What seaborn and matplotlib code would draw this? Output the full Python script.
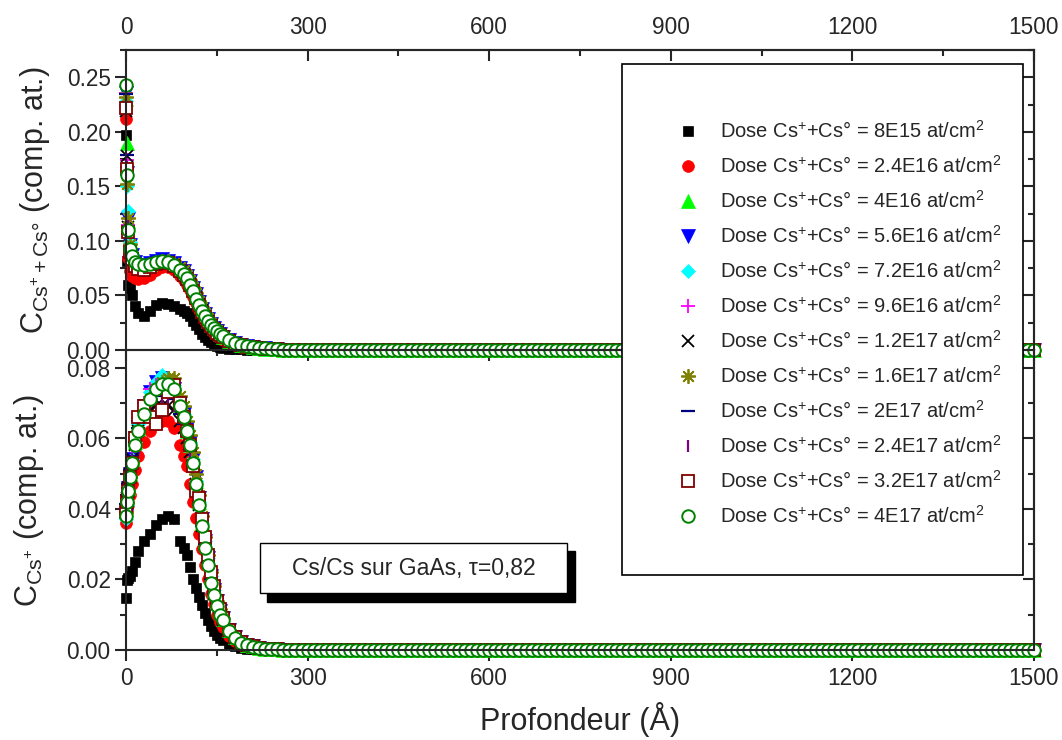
import warnings
import numpy as np
import seaborn as sns
import matplotlib.pyplot as plt
from matplotlib.lines import Line2D
from matplotlib.patches import Rectangle
from matplotlib.ticker import MultipleLocator, FormatStrFormatter

warnings.filterwarnings("ignore")

# ---- data ----
# depth (Angstrom) where the profiles are non-zero
depth_profile = [0, 2, 4, 7, 10, 15, 20, 30, 40, 50, 60, 70, 80,
                 90, 95, 100, 105, 110, 115, 120, 125, 130, 135, 140, 145, 150, 155, 160,
                 170, 180, 190, 200, 210, 220, 230, 240, 250]
# flat part of the profiles, all values are 0 there
depth_tail = list(range(260, 1501, 10))
tail_zero = [0.0] * len(depth_tail)

doses = ["8E15", "2.4E16", "4E16", "5.6E16", "7.2E16", "9.6E16",
         "1.2E17", "1.6E17", "2E17", "2.4E17", "3.2E17", "4E17"]

# top panel : C(Cs+ + Cs°)
tot_8e15 = [0.197, 0.082, 0.060, 0.057, 0.050, 0.040, 0.034, 0.031, 0.036, 0.041, 0.043, 0.042, 0.040,
            0.038, 0.036, 0.034, 0.031, 0.027, 0.023, 0.019, 0.015, 0.012, 0.009, 0.007, 0.005, 0.0035, 0.0027, 0.002,
            0.0012, 0.0008, 0.0005, 0.0003, 0.0002, 0.0001, 0.0001, 0.0, 0.0]
tot_2_4e16 = [0.212, 0.108, 0.084, 0.072, 0.068, 0.066, 0.065, 0.066, 0.069, 0.073, 0.076, 0.076, 0.073,
              0.068, 0.064, 0.060, 0.055, 0.049, 0.043, 0.037, 0.032, 0.027, 0.023, 0.019, 0.016, 0.013, 0.011, 0.009,
              0.0065, 0.0045, 0.0032, 0.0023, 0.0017, 0.0012, 0.0009, 0.0006, 0.0004]
tot_4e16 = [0.230, 0.190, 0.118, 0.094, 0.085, 0.080, 0.077, 0.077, 0.079, 0.081, 0.082, 0.081, 0.079,
            0.074, 0.071, 0.067, 0.062, 0.056, 0.050, 0.043, 0.037, 0.032, 0.027, 0.023, 0.020, 0.017, 0.0145, 0.012,
            0.0085, 0.006, 0.0045, 0.0034, 0.0025, 0.0018, 0.0013, 0.0009, 0.0006]
tot_5_6e16 = [0.236, 0.162, 0.120, 0.096, 0.087, 0.081, 0.078, 0.077, 0.080, 0.082, 0.083, 0.082, 0.080,
              0.075, 0.072, 0.068, 0.063, 0.057, 0.051, 0.044, 0.038, 0.033, 0.028, 0.024, 0.020, 0.017, 0.0145, 0.012,
              0.0088, 0.0063, 0.0046, 0.0035, 0.0026, 0.0019, 0.0014, 0.001, 0.0007]
tot_7_2e16 = [0.228, 0.150, 0.127, 0.099, 0.088, 0.082, 0.078, 0.077, 0.079, 0.081, 0.082, 0.082, 0.079,
              0.074, 0.071, 0.067, 0.062, 0.056, 0.049, 0.043, 0.037, 0.032, 0.027, 0.023, 0.020, 0.017, 0.014, 0.012,
              0.0087, 0.0062, 0.0045, 0.0034, 0.0025, 0.0018, 0.0013, 0.0009, 0.0006]
tot_9_6e16 = [0.236, 0.174, 0.115, 0.092, 0.085, 0.080, 0.077, 0.076, 0.078, 0.080, 0.081, 0.080, 0.078,
              0.073, 0.070, 0.066, 0.061, 0.055, 0.049, 0.042, 0.036, 0.031, 0.027, 0.023, 0.019, 0.016, 0.014, 0.012,
              0.0085, 0.006, 0.0044, 0.0033, 0.0024, 0.0018, 0.0013, 0.0009, 0.0006]
tot_1_2e17 = [0.219, 0.178, 0.113, 0.091, 0.084, 0.079, 0.076, 0.075, 0.077, 0.080, 0.081, 0.081, 0.079,
              0.075, 0.072, 0.068, 0.063, 0.057, 0.051, 0.044, 0.038, 0.033, 0.028, 0.024, 0.020, 0.017, 0.0145, 0.012,
              0.0088, 0.0063, 0.0046, 0.0035, 0.0026, 0.0019, 0.0014, 0.001, 0.0007]
tot_1_6e17 = [0.232, 0.152, 0.121, 0.097, 0.086, 0.079, 0.075, 0.074, 0.077, 0.080, 0.082, 0.082, 0.080,
              0.076, 0.073, 0.069, 0.064, 0.058, 0.052, 0.045, 0.039, 0.034, 0.029, 0.025, 0.021, 0.018, 0.015, 0.013,
              0.009, 0.0065, 0.0048, 0.0036, 0.0027, 0.002, 0.0015, 0.0011, 0.0008]
tot_2e17 = [0.235, 0.179, 0.112, 0.092, 0.085, 0.080, 0.077, 0.076, 0.078, 0.080, 0.081, 0.080, 0.078,
            0.073, 0.070, 0.066, 0.061, 0.055, 0.048, 0.042, 0.036, 0.031, 0.027, 0.023, 0.019, 0.016, 0.014, 0.012,
            0.0085, 0.006, 0.0044, 0.0033, 0.0024, 0.0018, 0.0013, 0.0009, 0.0006]
tot_2_4e17 = [0.226, 0.168, 0.114, 0.093, 0.086, 0.080, 0.077, 0.076, 0.078, 0.080, 0.081, 0.080, 0.078,
              0.073, 0.070, 0.066, 0.060, 0.055, 0.049, 0.042, 0.036, 0.031, 0.026, 0.023, 0.019, 0.016, 0.014, 0.012,
              0.0085, 0.006, 0.0044, 0.0033, 0.0024, 0.0018, 0.0013, 0.0009, 0.0006]
tot_3_2e17 = [0.222, 0.166, 0.108, 0.090, 0.083, 0.077, 0.074, 0.073, 0.076, 0.079, 0.080, 0.080, 0.077,
              0.072, 0.069, 0.065, 0.060, 0.054, 0.048, 0.041, 0.035, 0.030, 0.026, 0.022, 0.019, 0.016, 0.0135, 0.0115,
              0.0082, 0.0058, 0.0042, 0.0032, 0.0023, 0.0017, 0.0012, 0.0008, 0.0005]
tot_4e17 = [0.243, 0.160, 0.110, 0.093, 0.086, 0.081, 0.079, 0.078, 0.079, 0.081, 0.082, 0.081, 0.078,
            0.073, 0.070, 0.066, 0.060, 0.054, 0.047, 0.041, 0.036, 0.031, 0.027, 0.023, 0.020, 0.017, 0.015, 0.013,
            0.009, 0.0065, 0.005, 0.0037, 0.0028, 0.002, 0.0015, 0.0011, 0.0008]

# bottom panel : C(Cs+)
cs_8e15 = [0.0146, 0.0198, 0.0205, 0.021, 0.0225, 0.025, 0.028, 0.031, 0.033, 0.0355, 0.037, 0.038, 0.037,
           0.031, 0.029, 0.027, 0.0235, 0.020, 0.0175, 0.015, 0.0127, 0.0105, 0.0085, 0.0068, 0.0055, 0.0043, 0.0034, 0.0027,
           0.0017, 0.001, 0.0006, 0.0004, 0.0003, 0.0002, 0.0001, 0.0001, 0.0]
cs_2_4e16 = [0.036, 0.039, 0.041, 0.044, 0.047, 0.051, 0.055, 0.059, 0.062, 0.064, 0.065, 0.065, 0.063,
             0.058, 0.055, 0.052, 0.047, 0.042, 0.0375, 0.033, 0.0285, 0.024, 0.020, 0.016, 0.013, 0.010, 0.008, 0.0065,
             0.004, 0.0025, 0.0015, 0.001, 0.0006, 0.0004, 0.0003, 0.0002, 0.0001]
cs_4e16 = [0.040, 0.043, 0.046, 0.050, 0.054, 0.059, 0.063, 0.068, 0.072, 0.075, 0.076, 0.076, 0.074,
           0.069, 0.066, 0.062, 0.058, 0.053, 0.048, 0.042, 0.036, 0.031, 0.026, 0.021, 0.017, 0.0135, 0.011, 0.0088,
           0.0057, 0.0036, 0.0023, 0.0015, 0.001, 0.0006, 0.0004, 0.0003, 0.0002]
cs_5_6e16 = [0.038, 0.042, 0.046, 0.050, 0.054, 0.060, 0.064, 0.069, 0.073, 0.076, 0.077, 0.076, 0.074,
             0.070, 0.067, 0.063, 0.059, 0.054, 0.049, 0.043, 0.037, 0.031, 0.026, 0.021, 0.017, 0.014, 0.011, 0.009,
             0.0058, 0.0037, 0.0023, 0.0015, 0.001, 0.0006, 0.0004, 0.0003, 0.0002]
cs_7_2e16 = [0.037, 0.041, 0.045, 0.049, 0.054, 0.059, 0.064, 0.069, 0.073, 0.076, 0.078, 0.077, 0.075,
             0.070, 0.067, 0.063, 0.059, 0.054, 0.048, 0.042, 0.036, 0.031, 0.026, 0.021, 0.017, 0.0135, 0.011, 0.0088,
             0.0057, 0.0036, 0.0023, 0.0015, 0.001, 0.0006, 0.0004, 0.0003, 0.0002]
cs_9_6e16 = [0.039, 0.043, 0.046, 0.050, 0.055, 0.060, 0.065, 0.070, 0.074, 0.075, 0.075, 0.074, 0.072,
             0.068, 0.065, 0.061, 0.057, 0.052, 0.047, 0.041, 0.035, 0.030, 0.025, 0.020, 0.016, 0.013, 0.0105, 0.0085,
             0.0055, 0.0035, 0.0022, 0.0014, 0.0009, 0.0006, 0.0004, 0.0003, 0.0002]
cs_1_2e17 = [0.040, 0.043, 0.046, 0.050, 0.054, 0.058, 0.062, 0.066, 0.068, 0.069, 0.069, 0.069, 0.068,
             0.065, 0.063, 0.060, 0.056, 0.052, 0.047, 0.041, 0.035, 0.030, 0.025, 0.020, 0.016, 0.013, 0.0105, 0.0085,
             0.0055, 0.0035, 0.0022, 0.0014, 0.0009, 0.0006, 0.0004, 0.0003, 0.0002]
cs_1_6e17 = [0.039, 0.042, 0.045, 0.049, 0.053, 0.058, 0.062, 0.067, 0.071, 0.074, 0.076, 0.077, 0.077,
             0.072, 0.069, 0.065, 0.061, 0.056, 0.050, 0.044, 0.038, 0.032, 0.027, 0.022, 0.018, 0.014, 0.0115, 0.009,
             0.0058, 0.0037, 0.0023, 0.0015, 0.001, 0.0006, 0.0004, 0.0003, 0.0002]
cs_2e17 = [0.0415, 0.044, 0.047, 0.051, 0.055, 0.059, 0.063, 0.067, 0.070, 0.072, 0.073, 0.073, 0.071,
           0.067, 0.064, 0.061, 0.057, 0.052, 0.047, 0.041, 0.035, 0.030, 0.025, 0.020, 0.016, 0.013, 0.0105, 0.0085,
           0.0055, 0.0035, 0.0022, 0.0014, 0.0009, 0.0006, 0.0004, 0.0003, 0.0002]
cs_2_4e17 = [0.040, 0.043, 0.046, 0.050, 0.054, 0.059, 0.063, 0.067, 0.069, 0.070, 0.070, 0.070, 0.069,
             0.066, 0.063, 0.060, 0.056, 0.052, 0.047, 0.041, 0.035, 0.030, 0.025, 0.020, 0.016, 0.013, 0.0105, 0.0085,
             0.0055, 0.0035, 0.0022, 0.0014, 0.0009, 0.0006, 0.0004, 0.0003, 0.0002]
cs_3_2e17 = [0.039, 0.042, 0.045, 0.049, 0.053, 0.060, 0.066, 0.069, 0.066, 0.064, 0.068, 0.073, 0.075,
             0.070, 0.066, 0.062, 0.058, 0.052, 0.045, 0.043, 0.037, 0.032, 0.027, 0.022, 0.018, 0.014, 0.0115, 0.009,
             0.0058, 0.0037, 0.0023, 0.0015, 0.001, 0.0006, 0.0004, 0.0003, 0.0002]
cs_4e17 = [0.038, 0.042, 0.045, 0.049, 0.053, 0.058, 0.062, 0.067, 0.071, 0.074, 0.0755, 0.0755, 0.074,
           0.069, 0.066, 0.062, 0.058, 0.053, 0.047, 0.041, 0.035, 0.029, 0.024, 0.019, 0.0155, 0.0125, 0.010, 0.0085,
           0.0055, 0.0035, 0.002, 0.0014, 0.0009, 0.0006, 0.0004, 0.0003, 0.0002]

tot_series = [tot_8e15, tot_2_4e16, tot_4e16, tot_5_6e16, tot_7_2e16, tot_9_6e16,
              tot_1_2e17, tot_1_6e17, tot_2e17, tot_2_4e17, tot_3_2e17, tot_4e17]
cs_series = [cs_8e15, cs_2_4e16, cs_4e16, cs_5_6e16, cs_7_2e16, cs_9_6e16,
             cs_1_2e17, cs_1_6e17, cs_2e17, cs_2_4e17, cs_3_2e17, cs_4e17]

# marker, face, edge, size (pt), edge width
marker_styles = [
    ("s", "black", "black", 7.8, 0.5),
    ("o", "#FF0000", "#FF0000", 8.5, 0.5),
    ("^", "#00FF00", "#00FF00", 9.5, 0.5),
    ("v", "#0000FF", "#0000FF", 9.5, 0.5),
    ("D", "#00FFFF", "#00FFFF", 7.3, 0.5),
    ("+", "#FF00FF", "#FF00FF", 10.0, 1.3),
    ("x", "black", "black", 9.0, 1.3),
    ((8, 2, 0), "#808000", "#808000", 10.5, 1.3),
    ("_", "#000080", "#000080", 10.0, 1.6),
    ("|", "#800080", "#800080", 8.0, 1.6),
    ("s", "white", "#800000", 8.0, 1.3),
    ("o", "white", "#008000", 9.0, 1.4),
]

# ---- style ----
sns.set_style("ticks")
plt.rcParams["font.family"] = ["Liberation Sans", "DejaVu Sans"]
plt.rcParams["mathtext.fontset"] = "custom"
plt.rcParams["mathtext.rm"] = "Liberation Sans"
plt.rcParams["mathtext.it"] = "Liberation Sans:italic"
plt.rcParams["mathtext.bf"] = "Liberation Sans:bold"

W, H = 1062, 740
fig = plt.figure(figsize=(W / 100, H / 100), dpi=100)


def fig_box(x0, y0, x1, y1):
    # pixel box (top-left origin) -> figure fraction [left, bottom, width, height]
    return [x0 / W, 1 - y1 / H, (x1 - x0) / W, (y1 - y0) / H]


ax_top = fig.add_axes(fig_box(126, 50, 1034, 350))
ax_bot = fig.add_axes(fig_box(126, 350, 1034, 650))

depth_all = depth_profile + depth_tail
for tot, cs, (mk, fc, ec, ms, mew) in zip(tot_series, cs_series, marker_styles):
    for ax, vals in ((ax_top, tot), (ax_bot, cs)):
        sns.lineplot(x=depth_all, y=list(vals) + tail_zero, ax=ax,
                     estimator=None, linestyle="", marker=mk, color=ec,
                     markersize=ms, markerfacecolor=fc, markeredgecolor=ec,
                     markeredgewidth=mew, clip_on=False, legend=False)

tick_font = 16.3
for ax, ytop, ymaj, ymin in ((ax_top, 0.275, 0.05, 0.025), (ax_bot, 0.085, 0.02, 0.01)):
    ax.set_facecolor("none")
    ax.set_xlim(0, 1500)
    ax.set_ylim(0, ytop)
    ax.xaxis.set_major_locator(MultipleLocator(300))
    ax.xaxis.set_minor_locator(MultipleLocator(150))
    ax.yaxis.set_major_locator(MultipleLocator(ymaj))
    ax.yaxis.set_minor_locator(MultipleLocator(ymin))
    ax.yaxis.set_major_formatter(FormatStrFormatter("%.2f"))
    for sp in ax.spines.values():
        sp.set_linewidth(1.5)
    ax.tick_params(which="both", direction="out", width=1.5, labelsize=tick_font,
                   top=False, right=False)
    ax.tick_params(which="major", length=8)
    ax.tick_params(which="minor", length=4.5)
    ax.tick_params(axis="y", pad=3)
    ax.tick_params(axis="x", pad=4)
    # inward ticks on the right side
    sec_y = ax.secondary_yaxis("right")
    sec_y.yaxis.set_major_locator(MultipleLocator(ymaj))
    sec_y.yaxis.set_minor_locator(MultipleLocator(ymin))
    sec_y.tick_params(which="both", direction="in", width=1.5, labelright=False)
    sec_y.tick_params(which="major", length=8)
    sec_y.tick_params(which="minor", length=4.5)
    sec_y.spines["right"].set_linewidth(1.5)

ax_top.tick_params(axis="x", labelbottom=False)
sec_x = ax_top.secondary_xaxis("top")
sec_x.xaxis.set_major_locator(MultipleLocator(300))
sec_x.xaxis.set_minor_locator(MultipleLocator(150))
sec_x.tick_params(which="both", direction="in", width=1.5, labelsize=tick_font, pad=8)
sec_x.tick_params(which="major", length=8)
sec_x.tick_params(which="minor", length=4.5)
sec_x.spines["top"].set_linewidth(1.5)

ax_top.set_ylabel(r"C$_{\mathregular{Cs^{+} + Cs°}}$ (comp. at.)", fontsize=22)
ax_bot.set_ylabel(r"C$_{\mathregular{Cs^{+}}}$ (comp. at.)", fontsize=22)
ax_top.yaxis.set_label_coords(-0.082, 0.5)
ax_bot.yaxis.set_label_coords(-0.088, 0.5)
ax_top.set_xlabel("")
ax_bot.set_xlabel("Profondeur (Å)", fontsize=22, labelpad=9)

# ---- legend box spanning both panels ----
l, b, w, h = fig_box(622, 64, 1023, 575)
fig.add_artist(Rectangle((l, b), w, h, transform=fig.transFigure, facecolor="white",
                         edgecolor="black", linewidth=1.2, zorder=4))
handles = [Line2D([], [], linestyle="None", marker=mk, markersize=ms, markerfacecolor=fc,
                  markeredgecolor=ec, markeredgewidth=mew)
           for (mk, fc, ec, ms, mew) in marker_styles]
labels = [f"Dose Cs$^{{+}}$+Cs° = {d} at/cm$^{{2}}$" for d in doses]
fig.legend(handles, labels, loc="upper left", bbox_to_anchor=(676 / W, 1 - 120 / H),
           frameon=False, fontsize=14.5, handlelength=1.2, handletextpad=1.0,
           labelspacing=0.65, borderpad=0, borderaxespad=0)

# ---- annotation box with drop shadow ----
l, b, w, h = fig_box(267, 551, 575, 602)
fig.add_artist(Rectangle((l, b), w, h, transform=fig.transFigure, facecolor="black",
                         edgecolor="black", zorder=4))
l, b, w, h = fig_box(260, 543, 567, 593)
fig.add_artist(Rectangle((l, b), w, h, transform=fig.transFigure, facecolor="white",
                         edgecolor="black", linewidth=1.0, zorder=4.5))
fig.text(413.5 / W, 1 - 568 / H, "Cs/Cs sur GaAs, τ=0,82", fontsize=16.5,
         ha="center", va="center", zorder=5)

fig.savefig("out.png", dpi=100)
